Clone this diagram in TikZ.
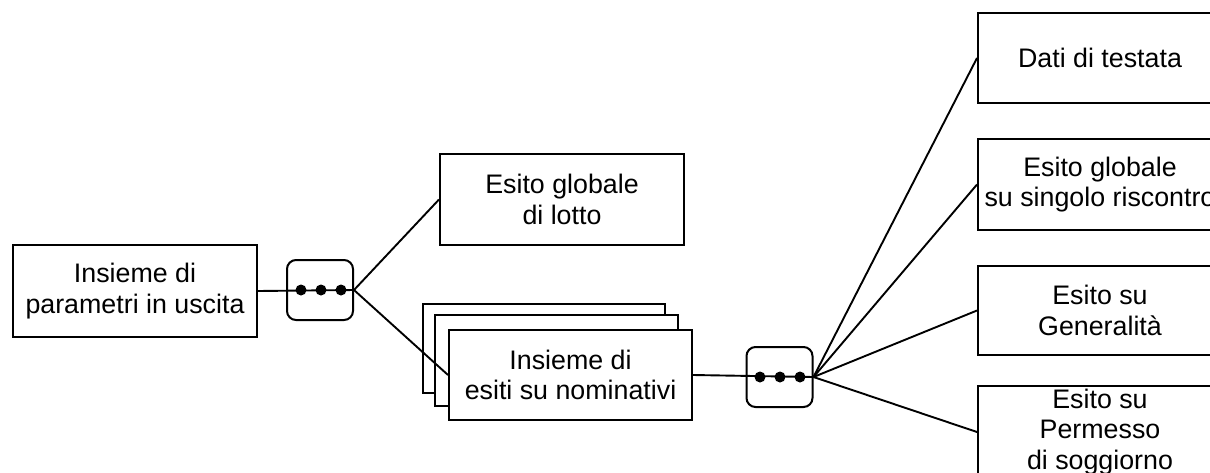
\documentclass[tikz,border=0pt]{standalone}
\usepackage{fontspec}
\setmainfont{Liberation Sans}
\begin{document}
\begin{tikzpicture}[x=1pt,y=-1pt,
  box/.style={draw, line width=2pt, fill=white, inner sep=0pt, align=center,
    font=\fontsize{26.8}{30.5}\selectfont, anchor=north west},
  seqbox/.style={draw, line width=2pt, fill=white, rounded corners=9pt,
    minimum width=66pt, minimum height=60pt, inner sep=0pt},
  link/.style={line width=1.9pt},
  dot/.style={fill=black}]
\useasboundingbox (0,0) rectangle (1210,472);
\clip (0,0) rectangle (1210,472);

% left box
\node[box, minimum width=244pt, minimum height=92pt] (inp) at (12,244)
  {Insieme di\\parametri in uscita};
% first sequence box
\node[seqbox] (s1) at (320,290) {};
\draw[link] (inp.east) -- (s1.east);
\foreach \dx in {-19,1,21}{\fill[dot] ([xshift=\dx pt]s1.center) circle (5.5pt);}

% esito globale di lotto
\node[box, minimum width=244pt, minimum height=91pt] (lotto) at (439,153)
  {Esito globale\\di lotto};

% stacked boxes
\node[box, minimum width=242pt, minimum height=89pt] (st3) at (422,303) {};
\node[box, minimum width=243pt, minimum height=91pt] (st2) at (434,314) {};
\node[box, minimum width=243pt, minimum height=90pt] (nom) at (448,329)
  {Insieme di\\esiti su nominativi};

\draw[link] (s1.east) -- (lotto.west);
\draw[link] (s1.east) -- (nom.west);

% second sequence box
\node[seqbox] (s2) at (779.5,377) {};
\draw[link] (nom.east) -- (s2.east);
\foreach \dx in {-19.5,0.5,20.5}{\fill[dot] ([xshift=\dx pt]s2.center) circle (5.5pt);}

% right boxes
\node[box, minimum width=244pt, minimum height=90pt] (dati) at (977,12)
  {Dati di testata};
\node[box, minimum width=244pt, minimum height=91pt] (glob) at (977,138)
  {Esito globale\\su singolo riscontro};
\node[box, minimum width=244pt, minimum height=89pt] (gen) at (977,265)
  {Esito su\\Generalità};
\node[box, minimum width=244pt, minimum height=92pt] (perm) at (977,385)
  {Esito su\\Permesso\\di soggiorno};

\draw[link] (s2.east) -- (dati.west);
\draw[link] (s2.east) -- (glob.west);
\draw[link] (s2.east) -- (gen.west);
\draw[link] (s2.east) -- (perm.west);
\end{tikzpicture}
\end{document}
